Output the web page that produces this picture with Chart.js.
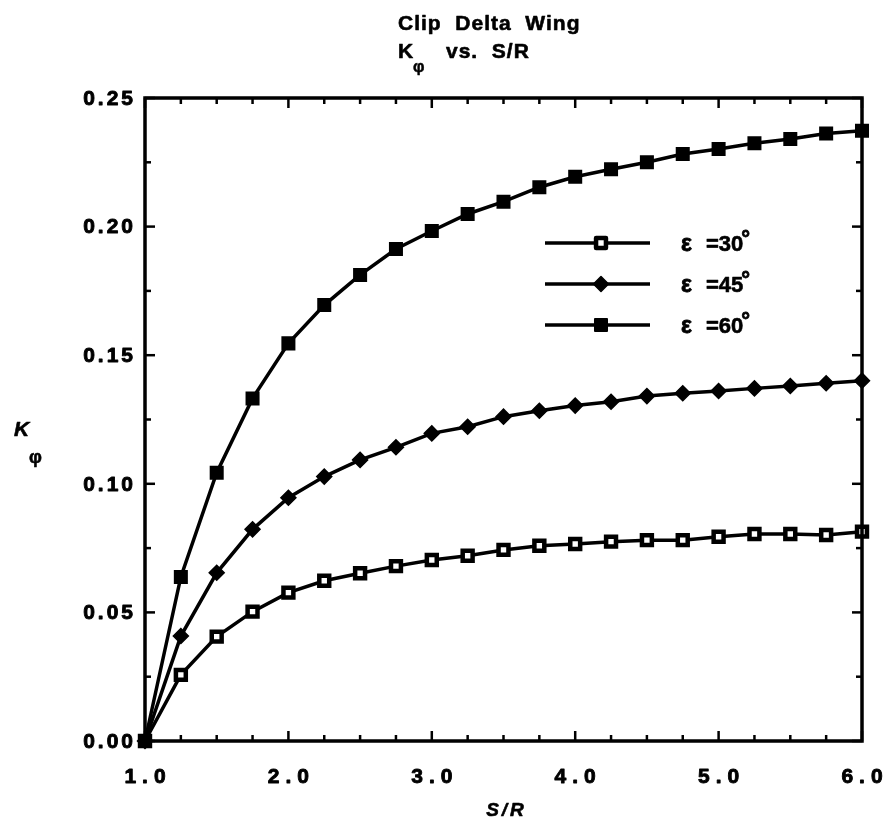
<!DOCTYPE html>
<html>
<head>
<meta charset="utf-8">
<script src="https://cdn.jsdelivr.net/npm/chart.js@4/dist/chart.umd.min.js"></script>
<style>
  html, body { margin: 0; padding: 0; background: #ffffff; }
  canvas { display: block; }
</style>
</head>
<body>
<canvas id="chart" width="887" height="825"></canvas>
<script>
// Span ratio S/R sampled every 0.25
const sOverR = [1.00, 1.25, 1.50, 1.75, 2.00, 2.25, 2.50, 2.75, 3.00, 3.25, 3.50,
                3.75, 4.00, 4.25, 4.50, 4.75, 5.00, 5.25, 5.50, 5.75, 6.00];

// K_phi for each leading-edge angle epsilon
const kPhi30 = [0, 0.0257, 0.0406, 0.0503, 0.0577, 0.0623, 0.0652, 0.0680, 0.0704, 0.0720, 0.0743,
                0.0759, 0.0766, 0.0775, 0.0781, 0.0781, 0.0794, 0.0805, 0.0805, 0.0801, 0.0814];
const kPhi45 = [0, 0.0408, 0.0654, 0.0823, 0.0946, 0.1028, 0.1093, 0.1142, 0.1196, 0.1222, 0.1261,
                0.1284, 0.1304, 0.1319, 0.1341, 0.1352, 0.1361, 0.1371, 0.1380, 0.1391, 0.1401];
const kPhi60 = [0, 0.0638, 0.1043, 0.1332, 0.1546, 0.1695, 0.1812, 0.1913, 0.1983, 0.2049, 0.2097,
                0.2153, 0.2194, 0.2223, 0.2250, 0.2282, 0.2302, 0.2324, 0.2341, 0.2362, 0.2373];

const seriesAngles = ['30', '45', '60'];

const xTickValues = [1, 2, 3, 4, 5, 6];
const xTickLabels = ['1.0', '2.0', '3.0', '4.0', '5.0', '6.0'];
const yTickValues = [0, 0.05, 0.10, 0.15, 0.20, 0.25];
const yTickLabels = ['0.00', '0.05', '0.10', '0.15', '0.20', '0.25'];

const FONT = '"Liberation Sans", Arial, Helvetica, sans-serif';

const toPoints = (ys) => sOverR.map((x, i) => ({ x: x, y: ys[i] }));

// marker styles shared by the plotted series and the key
const markerStyles = [
  { pointStyle: 'rect',    radius: 7,   fill: '#ffffff', borderWidth: 4.5 },
  { pointStyle: 'rectRot', radius: 7.5, fill: '#000000', borderWidth: 1.5 },
  { pointStyle: 'rect',    radius: 8.5, fill: '#000000', borderWidth: 2 }
];

function strokeLine(ctx, x1, y1, x2, y2) {
  ctx.beginPath();
  ctx.moveTo(x1, y1);
  ctx.lineTo(x2, y2);
  ctx.stroke();
}

// heavy text: fill plus a thin outline of the same colour
function heavyText(ctx, text, x, y, weight) {
  ctx.lineWidth = weight;
  ctx.lineJoin = 'round';
  ctx.strokeText(text, x, y);
  ctx.fillText(text, x, y);
}

function drawMarker(ctx, style, x, y) {
  ctx.save();
  ctx.fillStyle = style.fill;
  ctx.strokeStyle = '#000000';
  ctx.lineWidth = style.borderWidth;
  if (window.Chart && Chart.helpers && Chart.helpers.drawPoint) {
    Chart.helpers.drawPoint(ctx, {
      pointStyle: style.pointStyle, radius: style.radius, rotation: 0, borderWidth: style.borderWidth
    }, x, y);
  } else {
    ctx.beginPath();
    if (style.pointStyle === 'rectRot') {
      const r = style.radius;
      ctx.moveTo(x, y - r); ctx.lineTo(x + r, y); ctx.lineTo(x, y + r); ctx.lineTo(x - r, y);
      ctx.closePath();
    } else {
      const s = style.radius * Math.SQRT1_2;
      ctx.rect(x - s, y - s, 2 * s, 2 * s);
    }
    ctx.fill();
    ctx.stroke();
  }
  ctx.restore();
}

// Frame, inward ticks, tick labels, axis titles, heading and key
const decorPlugin = {
  id: 'decor',
  afterDraw(chart) {
    const ctx = chart.ctx;
    const a = chart.chartArea;
    const xs = chart.scales.x;
    const ys = chart.scales.y;
    ctx.save();
    ctx.strokeStyle = '#000000';
    ctx.fillStyle = '#000000';
    ctx.lineCap = 'butt';

    // plot frame
    ctx.lineWidth = 3.5;
    ctx.strokeRect(a.left, a.top, a.right - a.left, a.bottom - a.top);

    // inward tick marks: x every 0.25, y every 0.025
    ctx.lineWidth = 2.5;
    for (let i = 0; i <= 20; i++) {
      const px = xs.getPixelForValue(1 + i * 0.25);
      const len = (i % 4 === 0) ? 10 : 6;
      strokeLine(ctx, px, a.bottom, px, a.bottom - len);
      strokeLine(ctx, px, a.top, px, a.top + len);
    }
    for (let i = 0; i <= 10; i++) {
      const py = ys.getPixelForValue(i * 0.025);
      const len = (i % 2 === 0) ? 10 : 6;
      strokeLine(ctx, a.left, py, a.left + len, py);
      strokeLine(ctx, a.right, py, a.right - len, py);
    }

    // x tick labels
    ctx.font = 'bold 21px ' + FONT;
    ctx.letterSpacing = '6px';
    ctx.textAlign = 'center';
    ctx.textBaseline = 'alphabetic';
    xTickValues.forEach((v, i) => {
      heavyText(ctx, xTickLabels[i], xs.getPixelForValue(v) + 3, a.bottom + 42, 0.9);
    });

    // y tick labels
    ctx.letterSpacing = '3px';
    ctx.textAlign = 'right';
    ctx.textBaseline = 'middle';
    yTickValues.forEach((v, i) => {
      heavyText(ctx, yTickLabels[i], a.left - 9, ys.getPixelForValue(v) + 1, 0.9);
    });

    // axis titles
    ctx.textBaseline = 'alphabetic';
    ctx.textAlign = 'center';
    ctx.letterSpacing = '3px';
    ctx.font = 'italic bold 19px ' + FONT;
    heavyText(ctx, 'S/R', (a.left + a.right) / 2 + 3, 816, 0.6);

    ctx.letterSpacing = '0px';
    ctx.textAlign = 'left';
    ctx.font = 'italic bold 21px ' + FONT;
    heavyText(ctx, 'K', 14, 436, 0.6);
    ctx.font = 'bold 18px ' + FONT;
    heavyText(ctx, '\u03C6', 29, 463, 0.6);

    // heading
    ctx.letterSpacing = '1px';
    ctx.font = 'bold 21px ' + FONT;
    heavyText(ctx, 'Clip  Delta  Wing', 398, 30, 0.6);
    heavyText(ctx, 'K', 398, 58, 0.6);
    heavyText(ctx, 'vs.  S/R', 446, 58, 0.6);
    ctx.font = 'bold 16px ' + FONT;
    heavyText(ctx, '\u03C6', 413, 72, 0.5);

    // key
    const keyY = [243, 284, 325];
    ctx.letterSpacing = '0px';
    seriesAngles.forEach((ang, i) => {
      const y = keyY[i];
      ctx.lineWidth = 3.5;
      strokeLine(ctx, 545, y, 650, y);
      drawMarker(ctx, markerStyles[i], 601, y);
      ctx.font = 'bold 23px ' + FONT;
      heavyText(ctx, '\u03B5', 681, y + 8, 0.8);
      ctx.font = 'bold 22px ' + FONT;
      heavyText(ctx, '=' + ang, 706, y + 8, 0.6);
      const w = ctx.measureText('=' + ang).width;
      ctx.font = 'bold 22px ' + FONT;
      heavyText(ctx, '\u00B0', 706 + w - 2, y + 3, 0.8);
    });

    ctx.restore();
  }
};

const seriesData = [kPhi30, kPhi45, kPhi60];

const datasets = seriesData.map((vals, i) => ({
  label: '\u03B5 = ' + seriesAngles[i] + '\u00B0',
  data: toPoints(vals),
  borderColor: '#000000',
  borderWidth: 3.5,
  backgroundColor: markerStyles[i].fill,
  pointStyle: markerStyles[i].pointStyle,
  pointRadius: markerStyles[i].radius,
  pointBorderWidth: markerStyles[i].borderWidth,
  pointBorderColor: '#000000',
  pointBackgroundColor: markerStyles[i].fill,
  tension: 0,
  clip: false,
  order: 2 - i
}));

new Chart(document.getElementById('chart'), {
  type: 'line',
  data: { datasets: datasets },
  options: {
    responsive: false,
    animation: false,
    devicePixelRatio: 1,
    layout: { padding: { left: 145, right: 25, top: 98, bottom: 84 } },
    plugins: {
      legend: { display: false },
      title: { display: false },
      tooltip: { enabled: false }
    },
    scales: {
      x: { type: 'linear', min: 1, max: 6, display: false },
      y: { type: 'linear', min: 0, max: 0.25, display: false }
    }
  },
  plugins: [decorPlugin]
});
</script>
</body>
</html>
